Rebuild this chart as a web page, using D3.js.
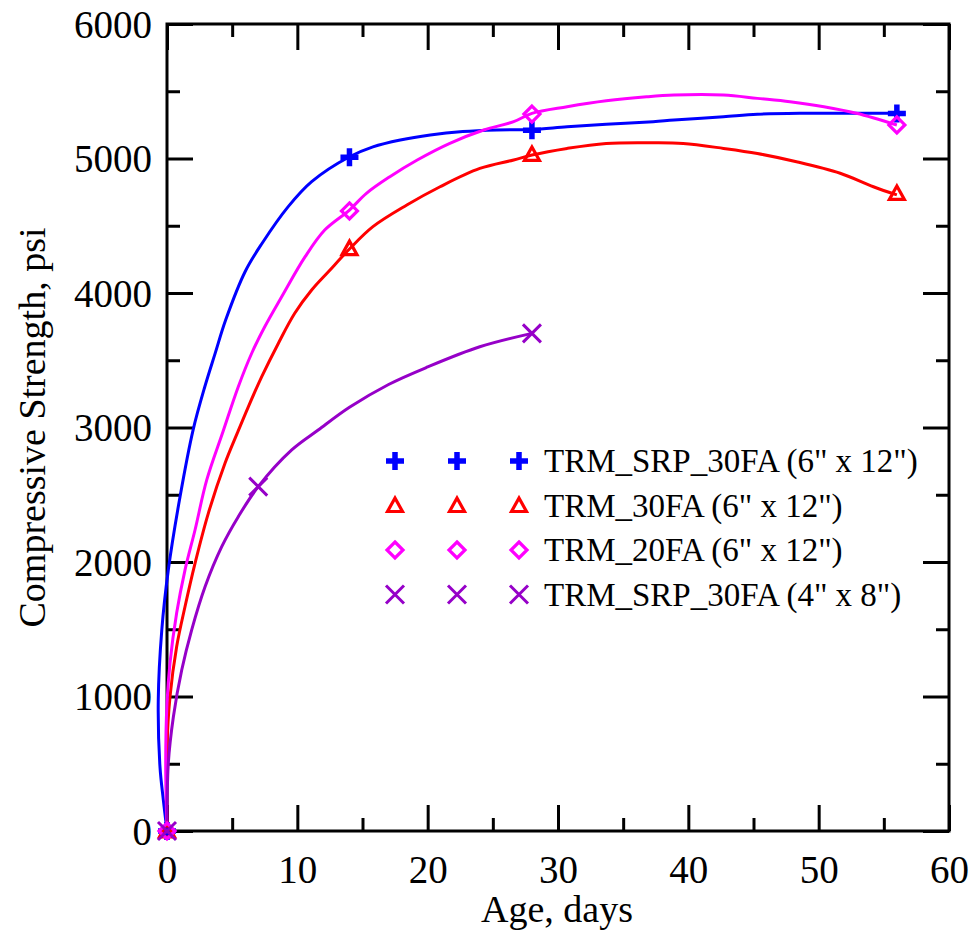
<!DOCTYPE html>
<html>
<head>
<meta charset="utf-8">
<script src="https://cdn.jsdelivr.net/npm/d3@7"></script>
<style>
  html, body { margin: 0; padding: 0; background: #fff; }
  svg { display: block; }
  text { font-family: "Liberation Serif", "Times New Roman", serif; fill: #000; }
</style>
</head>
<body>
<svg id="chart" width="974" height="941"></svg>
<script>
// Measured test results (age in days, compressive strength in psi)
const seriesNames = [
  'TRM_SRP_30FA (6" x 12")',
  'TRM_30FA (6" x 12")',
  'TRM_20FA (6" x 12")',
  'TRM_SRP_30FA (4" x 8")'
];
const seriesColors = ["#0000ff", "#ff0000", "#ff00ff", "#9600c8"];
const seriesSymbols = ["plus", "triangle", "diamond", "cross"];

const srp30Age = [0, 14, 28, 56];
const srp30Psi = [0, 5010, 5210, 5335];
const fa30Age = [0, 14, 28, 56];
const fa30Psi = [0, 4330, 5030, 4740];
const fa20Age = [0, 14, 28, 56];
const fa20Psi = [0, 4610, 5330, 5250];
const srp30SmallAge = [0, 7, 28];
const srp30SmallPsi = [0, 2560, 3700];

// Smoothed strength-gain curves, traced along each series
const srp30CurveAge = [0, -0.28, -0.54, -0.67, -0.4, 0.1, 1.0, 2.0, 2.9, 3.7, 4.5, 6.0, 7.3, 9.3, 11.1, 14.0, 15.8, 17.9, 20.2, 22.7, 25.3, 28.0, 30.7, 33.7, 37.3, 38.9, 42.7, 45.3, 48.6, 52.7, 56];
const srp30CurvePsi = [0, 230, 478, 974, 1494, 1940, 2485, 2981, 3303, 3553, 3799, 4160, 4370, 4642, 4828, 5013, 5087, 5138, 5175, 5200, 5212, 5216, 5236, 5254, 5274, 5286, 5311, 5329, 5336, 5336, 5336];
const fa30CurveAge = [0, 0, 0.23, 0.74, 1.38, 2.15, 3.17, 4.45, 5.4, 6.24, 7.27, 8.54, 9.8, 11.1, 12.4, 14.0, 15.8, 18.4, 20.95, 24.0, 26.6, 28.0, 30.7, 33.7, 37.3, 39.6, 42.7, 45.3, 48.3, 51.65, 54.2, 56];
const fa30CurvePsi = [0, 626, 998, 1370, 1667, 1990, 2362, 2734, 2960, 3154, 3378, 3625, 3849, 4022, 4160, 4327, 4493, 4654, 4790, 4926, 4989, 5026, 5075, 5112, 5117, 5112, 5075, 5037, 4976, 4890, 4790, 4729];
const fa20CurveAge = [0, -0.1, 0, 0.23, 0.74, 1.38, 2.15, 3.05, 4.3, 5.47, 6.5, 7.5, 8.8, 10.6, 12.1, 14.0, 15.3, 17.1, 19.2, 21.7, 24.3, 26.6, 28.0, 30.7, 33.7, 36.8, 38.9, 42.7, 45.3, 47.8, 50.4, 52.9, 56];
const fa20CurvePsi = [0, 505, 952, 1249, 1620, 1940, 2238, 2610, 2970, 3303, 3552, 3749, 3972, 4270, 4468, 4617, 4741, 4865, 4989, 5113, 5212, 5274, 5336, 5385, 5429, 5459, 5472, 5472, 5447, 5422, 5385, 5336, 5249];
const srp30SmallCurveAge = [0, 0.1, 0.49, 1.13, 1.89, 2.92, 4.2, 5.47, 7.0, 9.57, 11.6, 14, 17, 20, 24, 28];
const srp30SmallCurvePsi = [0, 503, 850, 1197, 1494, 1816, 2114, 2337, 2560, 2833, 2981, 3150, 3320, 3450, 3600, 3700];

// Axis ticks
const xMajorTicks = [0, 10, 20, 30, 40, 50, 60];
const xMinorTicks = [5, 15, 25, 35, 45, 55];
const yMajorTicks = [0, 1000, 2000, 3000, 4000, 5000, 6000];
const yMinorTicks = [500, 1500, 2500, 3500, 4500, 5500];

const series = [
  { age: srp30Age, psi: srp30Psi, cAge: srp30CurveAge, cPsi: srp30CurvePsi },
  { age: fa30Age, psi: fa30Psi, cAge: fa30CurveAge, cPsi: fa30CurvePsi },
  { age: fa20Age, psi: fa20Psi, cAge: fa20CurveAge, cPsi: fa20CurvePsi },
  { age: srp30SmallAge, psi: srp30SmallPsi, cAge: srp30SmallCurveAge, cPsi: srp30SmallCurvePsi }
].map((s, i) => ({
  ...s,
  name: seriesNames[i],
  color: seriesColors[i],
  symbol: seriesSymbols[i]
}));

const plot = { left: 167, right: 949, top: 24, bottom: 831 };
const svg = d3.select("#chart");

const x = d3.scaleLinear().domain([0, 60]).range([plot.left, plot.right]);
const y = d3.scaleLinear().domain([0, 6000]).range([plot.bottom, plot.top]);

const majorLen = 26, minorLen = 13, axisStroke = 3;
const serif = '"Liberation Serif", "Times New Roman", serif';

function styleAxis(g) {
  g.select(".domain").remove();
  g.selectAll(".tick line").attr("stroke", "#000").attr("stroke-width", axisStroke);
}

// Bottom axis with labels
svg.append("g")
  .attr("transform", `translate(0,${plot.bottom})`)
  .call(d3.axisBottom(x).tickValues(xMajorTicks).tickSize(-majorLen).tickPadding(0).tickFormat(d3.format("d")))
  .call(styleAxis)
  .call(g => g.selectAll(".tick text")
    .attr("y", 52).attr("dy", null)
    .attr("font-size", 39)
    .style("font-family", serif));
svg.append("g")
  .attr("transform", `translate(0,${plot.bottom})`)
  .call(d3.axisBottom(x).tickValues(xMinorTicks).tickSize(-minorLen).tickFormat(""))
  .call(styleAxis);

// Top axis (ticks only)
svg.append("g")
  .attr("transform", `translate(0,${plot.top})`)
  .call(d3.axisTop(x).tickValues(xMajorTicks).tickSize(-majorLen).tickFormat(""))
  .call(styleAxis);
svg.append("g")
  .attr("transform", `translate(0,${plot.top})`)
  .call(d3.axisTop(x).tickValues(xMinorTicks).tickSize(-minorLen).tickFormat(""))
  .call(styleAxis);

// Left axis with labels
svg.append("g")
  .attr("transform", `translate(${plot.left},0)`)
  .call(d3.axisLeft(y).tickValues(yMajorTicks).tickSize(-majorLen).tickPadding(0).tickFormat(d3.format("d")))
  .call(styleAxis)
  .call(g => g.selectAll(".tick text")
    .attr("x", -15).attr("dy", "0.34em")
    .attr("font-size", 39)
    .style("font-family", serif));
svg.append("g")
  .attr("transform", `translate(${plot.left},0)`)
  .call(d3.axisLeft(y).tickValues(yMinorTicks).tickSize(-minorLen).tickFormat(""))
  .call(styleAxis);

// Right axis (ticks only)
svg.append("g")
  .attr("transform", `translate(${plot.right},0)`)
  .call(d3.axisRight(y).tickValues(yMajorTicks).tickSize(-majorLen).tickFormat(""))
  .call(styleAxis);
svg.append("g")
  .attr("transform", `translate(${plot.right},0)`)
  .call(d3.axisRight(y).tickValues(yMinorTicks).tickSize(-minorLen).tickFormat(""))
  .call(styleAxis);

// Plot frame
svg.append("rect")
  .attr("x", x(0)).attr("y", y(6000))
  .attr("width", x(60) - x(0)).attr("height", y(0) - y(6000))
  .attr("fill", "none").attr("stroke", "#000").attr("stroke-width", axisStroke);

// Axis titles
svg.append("text")
  .attr("x", (plot.left + plot.right) / 2 - 1)
  .attr("y", 922)
  .attr("text-anchor", "middle")
  .attr("font-size", 38)
  .text("Age, days");
svg.append("text")
  .attr("transform", `translate(45,${(plot.top + plot.bottom) / 2}) rotate(-90)`)
  .attr("text-anchor", "middle")
  .attr("font-size", 38)
  .text("Compressive Strength, psi");

// Curves
const line = d3.line().curve(d3.curveCatmullRom.alpha(0.5));
series.forEach(s => {
  const pts = s.cAge.map((a, i) => [x(a), y(s.cPsi[i])]);
  svg.append("path")
    .attr("d", line(pts))
    .attr("fill", "none")
    .attr("stroke", s.color)
    .attr("stroke-width", 3)
    .attr("stroke-linejoin", "round");
});

// Marker drawing
function drawMarker(g, symbol, color, cx, cy) {
  if (symbol === "plus") {
    g.append("path").attr("d", `M${cx - 9},${cy}H${cx + 9}M${cx},${cy - 9}V${cy + 9}`)
      .attr("stroke", color).attr("stroke-width", 5.5).attr("fill", "none");
  } else if (symbol === "triangle") {
    g.append("path").attr("d", `M${cx},${cy - 7.5}L${cx + 7.5},${cy + 6}L${cx - 7.5},${cy + 6}Z`)
      .attr("stroke", color).attr("stroke-width", 3.2).attr("fill", "none").attr("stroke-linejoin", "miter");
  } else if (symbol === "diamond") {
    g.append("path").attr("d", `M${cx},${cy - 8}L${cx + 8},${cy}L${cx},${cy + 8}L${cx - 8},${cy}Z`)
      .attr("stroke", color).attr("stroke-width", 3.2).attr("fill", "none");
  } else {
    g.append("path").attr("d", `M${cx - 9},${cy - 9}L${cx + 9},${cy + 9}M${cx - 9},${cy + 9}L${cx + 9},${cy - 9}`)
      .attr("stroke", color).attr("stroke-width", 3).attr("fill", "none");
  }
}

const markers = svg.append("g");
series.forEach(s => {
  s.age.forEach((a, i) => drawMarker(markers, s.symbol, s.color, x(a), y(s.psi[i])));
});

// Legend
const legendMarkerX = [395, 457, 519];
const legendTextX = 544;
const legendY0 = 461, legendStep = 44.5;
const legend = svg.append("g");
series.forEach((s, i) => {
  const ly = legendY0 + i * legendStep;
  legendMarkerX.forEach(mx => drawMarker(legend, s.symbol, s.color, mx, ly));
  legend.append("text")
    .attr("x", legendTextX).attr("y", ly + 11)
    .attr("font-size", 33)
    .text(s.name);
});
</script>
</body>
</html>
